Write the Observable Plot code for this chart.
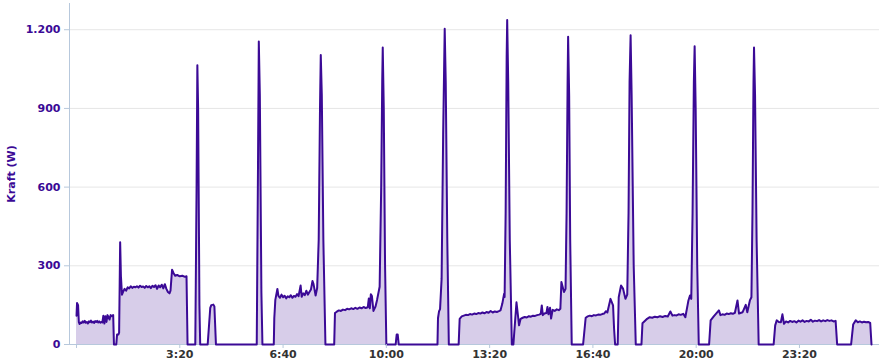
<!DOCTYPE html>
<html><head><meta charset="utf-8">
<script src="https://cdn.jsdelivr.net/npm/d3@7"></script>
<script src="https://cdn.jsdelivr.net/npm/@observablehq/plot@0.6"></script>
<style>body{margin:0;background:#fff}</style>
</head><body><div id="chart"></div>
<script>
const yLabel = "Kraft (W)";
const yTicks = [0, 300, 600, 900, 1200];
const xTicks = [0, 200, 400, 600, 800, 1000, 1200, 1400];
// [minutes since start, watts]
const readings = [
[0,110],[1,158],[3,150],[4.5,85],[6,78],[8,84],[10,82],[12,88],[14,84],[16,90],[18,83],[20,86],[22,80],[24,88],[26,85],[28,91],[30,84],[32,87],[34,82],[36,89],[38,86],[40,90],[42,84],[44,88],[46,83],[48,86],
[50,84],[52,110],[54,80],[56,108],[58,86],[60,112],[62,104],[64,95],[66,112],[68,108],[71,112],[72.5,0],
[77,0],[78.5,38],[81,38],[82.5,45],[84.5,390],[86,260],[88,190],
[90,200],[93,212],[96,205],[99,218],[102,214],[105,222],[108,216],[111,220],[114,218],[117,222],[120,217],[123,224],[126,219],[129,221],[132,216],[135,223],[138,218],[141,222],[144,215],[147,224],[150,219],[153,226],[156,212],[159,225],[162,218],[165,228],[168,214],[171,230],[174,212],[177,200],[180,195],[182,205],
[185,285],[188,272],[191,262],[195,265],[200,260],[205,262],[210,258],[213,260],[215,0],
[230,0],[232.5,600],[234,1065],[235.5,900],[238,150],[239.5,0],
[254,0],[259,140],[261,150],[265,152],[267,145],[270,0],
[349,0],[351.5,700],[353,1155],[355,950],[358,200],[360,0],
[382,0],[383,100],[385,170],[389,212],[391,185],[394,178],[397,190],[400,180],[403,186],[406,176],[409,184],[412,180],[415,188],[418,178],[421,185],[424,182],[427,192],[430,184],[434,225],[436,182],[439,195],[442,188],[445,205],[448,190],[451,200],[454,210],[457,242],[459,230],[463,187],[466,215],
[469,400],[471.5,900],[473,1104],[475,950],[478,400],[482,0],
[499,0],[500.5,120],[504,125],[508,130],[512,128],[516,133],[520,131],[524,136],[528,134],[532,138],[536,135],[540,140],[544,136],[548,141],[552,138],[556,143],[560,139],[564,142],
[566,175],[568,138],[570,192],[572,185],[575,128],[579,145],[582,170],[587,220],
[590,600],[592,1000],[593,1132],[595,900],[597.5,300],[600,0],
[618,0],[620,38],[622,38],[624,0],
[699,0],[700,100],[702,126],[704,135],[707,250],[710,800],[713,1204],[715,1000],[718,400],[721,0],
[740,0],[742,98],[746,107],[750,110],[754,113],[758,112],[762,116],[766,114],[770,118],[774,116],[778,120],[782,118],[786,122],[790,119],[794,124],[798,121],[802,128],[806,122],[810,126],[814,124],[818,127],[821,130],
[824.5,155],[828,193],[829,181],[831,500],[833,1100],[834,1237],[836,1000],[839,400],[843,0],
[846,0],[852,161],[857,73],[860,98],[864,102],[868,105],[872,103],[876,108],[880,106],[884,110],[888,109],[892,112],[896,114],[899,117],[901,149],[903,112],[906,118],[910,120],[912,143],[914,115],[917,140],[919,99],[922,132],[926,128],[930,134],[934,131],[937,136],
[939,238],[944,200],[947,212],[949,500],[951,1000],[952,1173],[954,950],[956,400],[959,0],
[981,0],[986,102],[990,107],[994,110],[998,108],[1002,112],[1006,111],[1010,114],[1014,113],[1018,116],[1022,118],[1025,127],[1028,122],[1034,174],[1039,149],[1041,60],[1043,0],
[1048,0],[1050,180],[1054.5,225],[1058.5,212],[1063,174],[1066.5,190],[1069,500],[1071,1000],[1073,1179],[1075,950],[1079,300],[1083,0],
[1094,0],[1096,81],[1105,98],[1110,104],[1115,102],[1120,106],[1125,104],[1130,108],[1135,105],[1140,109],[1145,107],[1150,126],[1154,110],[1158,112],[1162,111],[1166,115],[1170,113],[1175,117],[1179,104],
[1185,168],[1188,187],[1190.5,174],[1193,500],[1195.5,1000],[1197,1137],[1199,900],[1202,300],[1205,0],
[1225,0],[1228,92],[1234,107],[1244,130],[1247,112],[1251,115],[1255,113],[1259,118],[1263,116],[1267,119],[1271,117],[1275,121],[1280,168],[1283,118],[1287,121],[1290,123],[1296,151],[1299,123],[1304,168],[1307,180],
[1309,500],[1311,1000],[1312,1132],[1314,950],[1317,400],[1321,0],
[1350,0],[1353,73],[1356,92],[1360,86],[1364,85],[1367,115],[1370,79],[1374,88],[1378,84],[1382,90],[1386,86],[1390,89],[1394,84],[1398,91],[1402,87],[1406,92],[1410,86],[1414,90],[1418,88],[1422,94],[1426,87],[1430,91],[1434,89],[1438,93],[1442,88],[1446,92],[1450,89],[1454,93],[1458,90],[1462,92],[1466,88],[1470,90],[1473,0],
[1500,0],[1504,76],[1509,92],[1513,85],[1517,88],[1521,84],[1525,87],[1529,85],[1533,86],[1537,82],[1539.5,0]
];
const data = readings.map(([t, v]) => ({t, v}));
const xMin = -13.6, xMax = 1555;
const fmtY = d => d3.format(",")(d).replace(/,/g, ".");
const fmtX = m => m === 0 ? "" : `${Math.floor(m / 60)}:${String(m % 60).padStart(2, "0")}`;
const axisColor = "#b7c8dc";
const purple = "#3b0a96";
const plot = Plot.plot({
  width: 885, height: 360,
  marginLeft: 69, marginRight: 6, marginTop: 3, marginBottom: 16,
  style: {fontFamily: "'DejaVu Sans', sans-serif", fontSize: "11px", fontWeight: "bold", background: "#fff", overflow: "visible"},
  x: {domain: [xMin, xMax]},
  y: {domain: [0, 1300]},
  marks: [
    Plot.gridY(yTicks.filter(d => d > 0), {stroke: "#e6e6e6", strokeOpacity: 1}),
    Plot.ruleX([xMin], {stroke: axisColor}),
    Plot.areaY(data, {x: "t", y: "v", fill: "#d7cde9"}),
    Plot.ruleY([0], {stroke: axisColor}),
    Plot.lineY(data, {x: "t", y: "v", stroke: purple, strokeWidth: 2}),
    Plot.axisY(yTicks, {tickSize: 5, tickPadding: 4, tickFormat: fmtY, stroke: axisColor, fill: purple, label: null}),
    Plot.axisX(xTicks, {tickSize: 4, tickPadding: 2, tickFormat: fmtX, stroke: axisColor, fill: "#333", label: null}),
    Plot.text([yLabel], {text: d => d, frameAnchor: "left", dx: -58, rotate: -90, textAnchor: "middle", fill: purple, fontSize: 11, fontWeight: "bold"})
  ]
});
document.getElementById("chart").appendChild(plot);
</script>
</body></html>
